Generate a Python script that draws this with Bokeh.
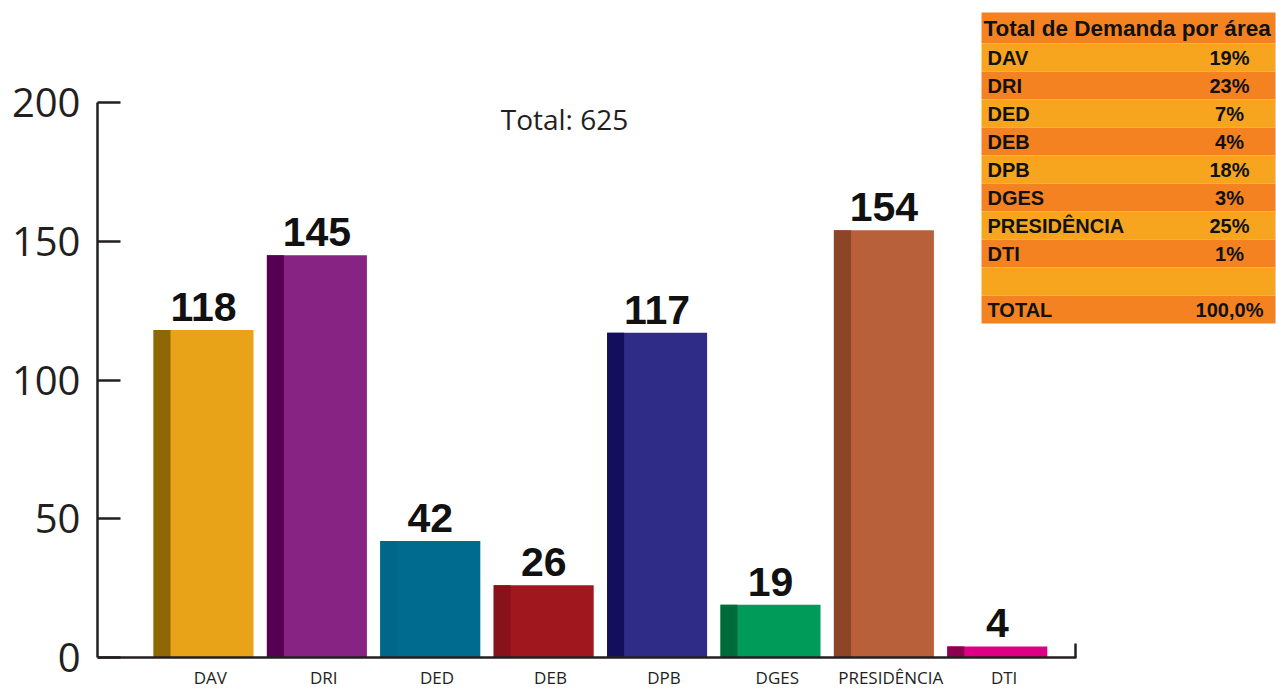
from bokeh.plotting import figure
from bokeh.models import (ColumnDataSource, Range1d, FixedTicker, Label, LabelSet)
from bokeh.core.properties import value
from bokeh.embed import file_html
from bokeh.resources import INLINE

# ---------------- data ----------------
categories = ["DAV", "DRI", "DED", "DEB", "DPB", "DGES", "PRESIDÊNCIA", "DTI"]
counts = [118, 145, 42, 26, 117, 19, 154, 4]
main_colors = ["#E9A319", "#862383", "#006B8E", "#A0181E", "#2E2C87", "#009B58", "#B8603A", "#DD0085"]
side_colors = ["#8F6604", "#560052", "#00668A", "#88121A", "#140F5C", "#006B3A", "#8C4527", "#8C0050"]
y_ticks = [0, 50, 100, 150, 200]
total_text = "Total: 625"

table_title = "Total de Demanda por área"
table_names = ["DAV", "DRI", "DED", "DEB", "DPB", "DGES", "PRESIDÊNCIA", "DTI", "", "TOTAL"]
table_pcts = ["19%", "23%", "7%", "4%", "18%", "3%", "25%", "1%", "", "100,0%"]

# ---------------- geometry helpers (canvas pixels -> data) ----------------
W, H = 1276, 689
X0_PX, X_STEP = 203.0, 113.4       # canvas x of first bar centre, spacing
Y0_PX, Y_SCALE = 657.0, 2.775      # canvas y of zero line, px per unit


def dx(px):
    return (px - X0_PX) / X_STEP


def dy(py):
    return (Y0_PX - py) / Y_SCALE


x_start, x_end = dx(97), dx(1276)
y_start, y_end = dy(H), dy(0)

p = figure(width=W, height=H, output_backend="svg", toolbar_location=None,
           x_range=Range1d(x_start, x_end), y_range=Range1d(y_start, y_end),
           min_border_left=97, min_border_right=0, min_border_top=0,
           min_border_bottom=0)
p.outline_line_color = None
p.xgrid.visible = False
p.ygrid.visible = False
p.background_fill_color = "white"
p.border_fill_color = "white"

xs = list(range(len(categories)))
half = 0.441
side_w = 0.15
src = ColumnDataSource(dict(
    x=xs, top=counts, label=[str(c) for c in counts],
    xl=[x + 0.06 for x in xs], zero=[0] * len(xs), cat=categories,
    left=[x - half for x in xs], right=[x + half for x in xs],
    sright=[x - half + side_w for x in xs],
    main=main_colors, side=side_colors))

p.quad(left="left", right="right", bottom=0, top="top", fill_color="main",
       line_color=None, source=src)
p.quad(left="left", right="sright", bottom=0, top="top", fill_color="side",
       line_color=None, source=src)

p.add_layout(LabelSet(x="x", y="top", text="label", source=src, text_align="center",
                      text_baseline="alphabetic", y_offset=9,
                      text_font=value("Liberation Sans"), text_font_style="bold",
                      text_font_size="41px", text_color="#111111"))

# category labels below the zero line
p.add_layout(LabelSet(x="xl", y="zero", text="cat", source=src, text_align="center",
                      text_baseline="middle", y_offset=-20,
                      text_font=value("Open Sans"), text_font_size="17px",
                      text_color="#231F20"))

p.add_layout(Label(x=dx(564), y=dy(118), text=total_text, text_align="center",
                   text_baseline="middle", text_font="Open Sans",
                   text_font_size="28px", text_color="#231F20"))

# ---------------- axes ----------------
axis_color = "#231F20"
ya = p.yaxis[0]
ya.ticker = FixedTicker(ticks=y_ticks)
ya.bounds = (0, 200)
ya.axis_line_color = axis_color
ya.axis_line_width = 2.5
ya.major_tick_in = 23
ya.major_tick_out = 0
ya.major_tick_line_color = axis_color
ya.major_tick_line_width = 2.5
ya.minor_tick_line_color = None
ya.major_label_standoff = 17
ya.major_label_text_font = "Open Sans"
ya.major_label_text_font_size = "40px"
ya.major_label_text_color = axis_color

xa = p.xaxis[0]
xa.fixed_location = 0
xa.ticker = FixedTicker(ticks=[], minor_ticks=[dx(1075)])
xa.bounds = (x_start, dx(1076))
xa.axis_line_color = axis_color
xa.axis_line_width = 2.5
xa.major_tick_in = 0
xa.major_tick_out = 0
xa.minor_tick_in = 14
xa.minor_tick_out = 0
xa.minor_tick_line_color = axis_color
xa.minor_tick_line_width = 2.5
xa.major_label_text_font_size = "0px"
xa.major_label_standoff = 0

# ---------------- summary table ----------------
t_left, t_right = 981, 1275
head_top, head_bot = 12, 43
row_h = 28
dark, light = "#F58220", "#F7A51E"

rows_top = [head_bot + i * row_h for i in range(len(table_names))]
tsrc = ColumnDataSource(dict(
    top=[dy(t) for t in rows_top],
    bottom=[dy(t + row_h) for t in rows_top],
    color=[light if i % 2 == 0 else dark for i in range(len(table_names))],
    name=table_names, pct=table_pcts,
    ymid=[dy(t + row_h / 2) for t in rows_top]))

p.quad(left=dx(t_left), right=dx(t_right), top=dy(head_top), bottom=dy(head_bot),
       fill_color=dark, line_color=None)
p.quad(left=dx(t_left), right=dx(t_right), top="top", bottom="bottom",
       fill_color="color", line_color=None, source=tsrc)

p.text(x=dx(t_left + 2), y=dy((head_top + head_bot) / 2), text=[table_title],
       text_align="left", text_baseline="middle", text_font=value("Liberation Sans"),
       text_font_style="bold", text_font_size="22.5px", text_color="#111111")
p.text(x=dx(t_left + 6), y="ymid", text="name", source=tsrc, text_align="left",
       text_baseline="middle", text_font=value("Liberation Sans"),
       text_font_style="bold", text_font_size="20px", text_color="#111111")
p.text(x=dx(t_left + 248), y="ymid", text="pct", source=tsrc, text_align="center",
       text_baseline="middle", text_font=value("Liberation Sans"),
       text_font_style="bold", text_font_size="20px", text_color="#111111")

open("out.html", "w").write(file_html(p, INLINE))
